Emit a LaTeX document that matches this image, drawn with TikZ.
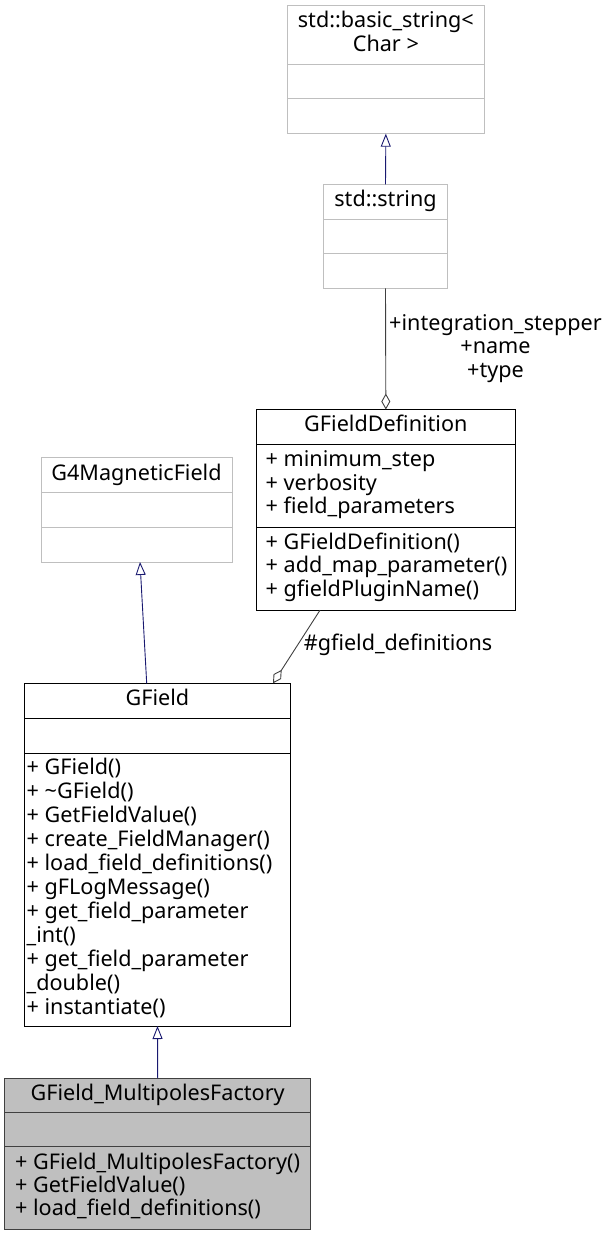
\documentclass[tikz,border=0pt]{standalone}
\usepackage{fontspec}
\setmainfont{Noto Sans}
\usetikzlibrary{arrows.meta}
\definecolor{navy}{HTML}{191970}
\definecolor{aggc}{HTML}{404040}
\definecolor{extc}{HTML}{BFBFBF}
\definecolor{fillc}{HTML}{BFBFBF}
\begin{document}
\begin{tikzpicture}[x=1pt,y=-1pt,
  box/.style={draw=black, line width=1pt, inner sep=0pt, outer sep=0pt, anchor=north west},
  extbox/.style={box, draw=extc},
  curbox/.style={box, draw=aggc, fill=fillc},
  tx/.style={inner sep=0pt, anchor=base west, align=left, font=\fontsize{21.6}{23.5}\selectfont},
  ttl/.style={inner sep=0pt, anchor=base, align=center, font=\fontsize{21.6}{23.5}\selectfont},
  lbl/.style={inner sep=0pt, anchor=base, align=center, font=\fontsize{21.6}{23.5}\selectfont},
  inh/.style={draw=navy, line width=0.9pt, -{Triangle[open, length=13pt, width=10pt]}},
  aggr/.style={draw=aggc, line width=0.9pt, {Diamond[open, length=16pt, width=9pt]}-},
]
\useasboundingbox (0,0) rectangle (609,1236);

% std::basic_string<Char>
\node[extbox, minimum width=196.3pt, minimum height=127.7pt] (bs) at (287.7,6) {};
\draw[extc, line width=1pt] (287.7,64.4) -- (484,64.4) (287.7,99) -- (484,99);
\node[ttl] (bst) at (385.85,51.5) {std::basic\_string<\\Char >};

% std::string
\node[extbox, minimum width=124.4pt, minimum height=104pt] (str) at (323.3,184.3) {};
\draw[extc, line width=1pt] (323.3,219.3) -- (447.7,219.3) (323.3,253.8) -- (447.7,253.8);
\node[ttl] (strt) at (385.5,206.3) {std::string};

% GFieldDefinition
\node[box, minimum width=259.7pt, minimum height=200.7pt] (gfd) at (256,409.5) {};
\draw[line width=1pt] (256,444.4) -- (515.7,444.4) (256,527.7) -- (515.7,527.7);
\node[ttl] (gfdt) at (385.85,431.5) {GFieldDefinition};
\node[tx] (gfda) at (265.5,513.7) {+ minimum\_step\\+ verbosity\\+ field\_parameters};
\node[tx] (gfdm) at (265.5,596.2) {+ GFieldDefinition()\\+ add\_map\_parameter()\\+ gfieldPluginName()};

% G4MagneticField
\node[extbox, minimum width=191pt, minimum height=104.3pt] (g4) at (41,457.7) {};
\draw[extc, line width=1pt] (41,492.7) -- (232,492.7) (41,527.3) -- (232,527.3);
\node[ttl] (g4t) at (136.5,480.7) {G4MagneticField};

% GField
\node[box, minimum width=266.4pt, minimum height=342.7pt] (gf) at (24.3,683.3) {};
\draw[line width=1pt] (24.3,718.3) -- (290.7,718.3) (24.3,753) -- (290.7,753);
\node[ttl] (gft) at (157.5,705.3) {GField};
\node[tx, font=\fontsize{21.6}{24}\selectfont] (gfm) at (26.5,1014.3) {+ GField()\\+ \textasciitilde GField()\\+ GetFieldValue()\\+ create\_FieldManager()\\+ load\_field\_definitions()\\+ gFLogMessage()\\+ get\_field\_parameter\\\_int()\\+ get\_field\_parameter\\\_double()\\+ instantiate()};

% GField_MultipolesFactory
\node[curbox, minimum width=306pt, minimum height=151pt] (mf) at (4.7,1078.3) {};
\draw[aggc, line width=1pt] (4.7,1112.3) -- (310.7,1112.3) (4.7,1146.7) -- (310.7,1146.7);
\node[ttl] (mft) at (157.7,1100.7) {GField\_MultipolesFactory};
\node[tx, font=\fontsize{21.6}{23.2}\selectfont] (mfm) at (15,1215.7) {+ GField\_MultipolesFactory()\\+ GetFieldValue()\\+ load\_field\_definitions()};

% connectors
\draw[inh] (str.north) -- (bs.south);
\draw[aggr] (gfd.north) -- (str.south);
\node[lbl] (l1) at (495.5,377) {+integration\_stepper\\+name\\+type};
\draw[inh] ([xshift=-10.8pt]gf.north) -- ([xshift=3.5pt]g4.south);
\draw[aggr] ([xshift=115.5pt]gf.north) -- ([xshift=-65.85pt]gfd.south);
\node[lbl] (l2) at (398,650) {\#gfield\_definitions};
\draw[inh] (mf.north) -- (gf.south);
\end{tikzpicture}
\end{document}
